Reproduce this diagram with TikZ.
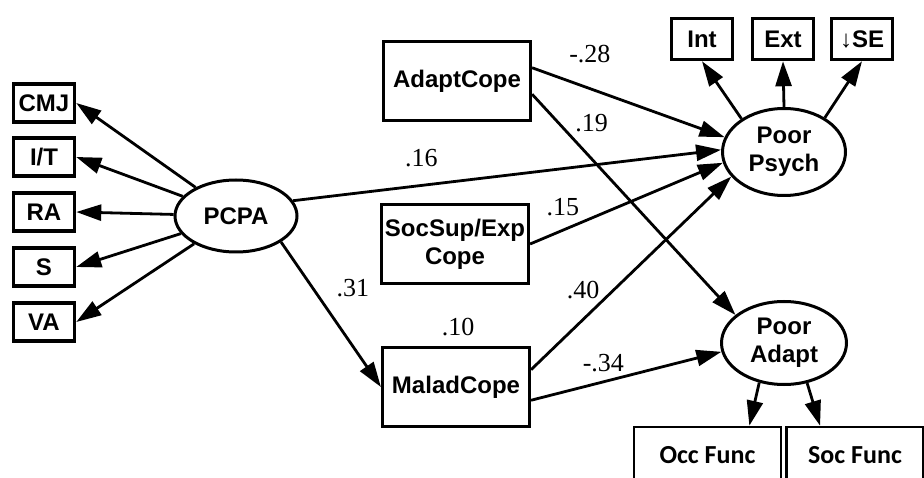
\documentclass[tikz,border=0pt]{standalone}
\usepackage{fontspec}
\setmainfont{Liberation Serif}
\newfontfamily\boxfont{Liberation Sans}
\newfontfamily\funcfont{Carlito}
\usetikzlibrary{shapes.geometric,arrows.meta}

\begin{document}
\begin{tikzpicture}[x=1pt,y=-1pt,
        obs/.style={draw, line width=3.5pt, inner sep=0pt, align=center,
            minimum width=61, minimum height=38,
            font=\boxfont\bfseries\fontsize{24}{28}\selectfont},
        cope/.style={obs, line width=3.2pt, minimum width=147, minimum height=79},
        latent/.style={draw, ellipse, line width=3pt, inner sep=0pt, align=center,
            font=\boxfont\bfseries\fontsize{24}{28}\selectfont},
        func/.style={draw, line width=2.6pt, minimum height=56,
            font=\funcfont\bfseries\fontsize{26}{28}\selectfont},
        arr/.style={line width=2.8pt, -{Triangle[length=25pt,width=16pt]}},
        coef/.style={font=\fontsize{26}{28}\selectfont}]

        \clip (0,0) rectangle (924,478);

        % indicators of PCPA
        \node[obs] (cmj) at (44,103) {CMJ};
        \node[obs] (it) at (44,157) {I/T};
        \node[obs] (ra) at (44,212) {RA};
        \node[obs] (s) at (44,267) {S};
        \node[obs] (va) at (44,322) {VA};

        % latent variables
        \node[latent, minimum width=122, minimum height=72] (pcpa) at (236,216) {PCPA};
        \node[latent, minimum width=123, minimum height=87] (psych) at (784,152) {Poor\\Psych};
        \node[latent, minimum width=125, minimum height=83] (poorad) at (784,343) {Poor\\Adapt};

        % coping
        \node[cope] (adaptcope) at (457,81) {AdaptCope};
        \node[cope] (socsup) at (455,244) {SocSup/Exp\\Cope};
        \node[cope] (maladcope) at (456,387) {MaladCope};
        \node[coef] (c10) at (458,327) {.10};

        % outcomes
        \node[obs, minimum height=41] (int) at (702,39) {Int};
        \node[obs, minimum height=41] (ext) at (783,39) {Ext};
        \node[obs, minimum height=41] (se) at (862,39) {↓SE};
        \node[func, minimum width=147] (occ) at (707.5,455) {Occ Func};
        \node[func, minimum width=137] (soc) at (855,455) {Soc Func};

        % measurement
        \draw[arr] (pcpa) -- (cmj.east);
        \draw[arr] (pcpa) -- (it.east);
        \draw[arr] (pcpa) -- (ra.east);
        \draw[arr] (pcpa) -- (s.east);
        \draw[arr] (pcpa) -- (va.east);
        \draw[arr] (psych.142) -- (int.south);
        \draw[arr] (psych.north) -- (ext.south);
        \draw[arr] (psych.40) -- (se.south);
        \draw[arr] (poorad.238) -- (occ.35);
        \draw[arr] (poorad.300) -- (soc.140);

        % structural paths
        \draw[arr] (pcpa.15) -- (psych.178) node[coef, pos=.3, yshift=27] {.16};
        \draw[arr] (pcpa.-30) -- (maladcope.west) node[coef, pos=.32, xshift=40] {.31};
        \draw[arr] (adaptcope.10) -- (psych.166) node[coef, pos=.3, yshift=35] {-.28};
        \draw[arr] (adaptcope.-10) -- (poorad.150) node[coef, pos=.13, xshift=33] {.19};
        \draw[arr] (socsup.east) -- (psych.190) node[coef, pos=.17, yshift=23] {.15};
        \draw[arr] (maladcope.13) -- (psych.205) node[coef, pos=.26, yshift=29] {.40};
        \draw[arr] (maladcope.-10) -- (poorad.188) node[coef, pos=.38, yshift=19] {-.34};
    \end{tikzpicture}
\end{document}
